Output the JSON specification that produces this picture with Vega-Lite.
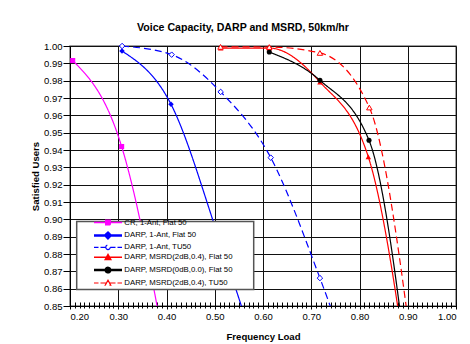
{
  "$schema": "https://vega.github.io/schema/vega-lite/v6.json",
  "width": 386,
  "height": 260,
  "autosize": "none",
  "padding": {"left": 70, "top": 46, "right": 14, "bottom": 38},
  "background": "white",
  "title": {
    "text": "Voice Capacity, DARP and MSRD, 50km/hr",
    "font": "Liberation Sans",
    "fontSize": 10.6,
    "fontWeight": "bold",
    "color": "black",
    "anchor": "middle",
    "dx": -20,
    "offset": 7
  },
  "data": {
    "values": [
      {"series": "CR, 1-Ant, Flat 50", "x": 0.2056, "y": 0.9916},
      {"series": "CR, 1-Ant, Flat 50", "x": 0.307, "y": 0.942},
      {"series": "CR, 1-Ant, Flat 50", "x": 0.41, "y": 0.805},
      {"series": "DARP, 1-Ant, Flat 50", "x": 0.3078, "y": 0.9971},
      {"series": "DARP, 1-Ant, Flat 50", "x": 0.4093, "y": 0.9664},
      {"series": "DARP, 1-Ant, Flat 50", "x": 0.511, "y": 0.887},
      {"series": "DARP, 1-Ant, Flat 50", "x": 0.613, "y": 0.8},
      {"series": "DARP, 1-Ant, TU50", "x": 0.308, "y": 1.0},
      {"series": "DARP, 1-Ant, TU50", "x": 0.4107, "y": 0.995},
      {"series": "DARP, 1-Ant, TU50", "x": 0.5123, "y": 0.9735},
      {"series": "DARP, 1-Ant, TU50", "x": 0.616, "y": 0.9356},
      {"series": "DARP, 1-Ant, TU50", "x": 0.718, "y": 0.8661},
      {"series": "DARP, 1-Ant, TU50", "x": 0.82, "y": 0.785},
      {"series": "DARP, MSRD(2dB,0.4), Flat 50", "x": 0.5123, "y": 0.9988},
      {"series": "DARP, MSRD(2dB,0.4), Flat 50", "x": 0.613, "y": 0.9988},
      {"series": "DARP, MSRD(2dB,0.4), Flat 50", "x": 0.7181, "y": 0.9792},
      {"series": "DARP, MSRD(2dB,0.4), Flat 50", "x": 0.8183, "y": 0.936},
      {"series": "DARP, MSRD(2dB,0.4), Flat 50", "x": 0.92, "y": 0.77},
      {"series": "DARP, MSRD(0dB,0.0), Flat 50", "x": 0.613, "y": 0.9965},
      {"series": "DARP, MSRD(0dB,0.0), Flat 50", "x": 0.718, "y": 0.9802},
      {"series": "DARP, MSRD(0dB,0.0), Flat 50", "x": 0.8197, "y": 0.9456},
      {"series": "DARP, MSRD(0dB,0.0), Flat 50", "x": 0.92, "y": 0.765},
      {"series": "DARP, MSRD(2dB,0.4), TU50", "x": 0.512, "y": 0.9995},
      {"series": "DARP, MSRD(2dB,0.4), TU50", "x": 0.613, "y": 0.9994},
      {"series": "DARP, MSRD(2dB,0.4), TU50", "x": 0.718, "y": 0.996},
      {"series": "DARP, MSRD(2dB,0.4), TU50", "x": 0.8204, "y": 0.9645},
      {"series": "DARP, MSRD(2dB,0.4), TU50", "x": 0.92, "y": 0.8}
    ]
  },
  "encoding": {
    "y": {
      "field": "y", "type": "quantitative",
      "scale": {"domain": [0.85, 1.0], "nice": false, "zero": false},
      "axis": {
        "values": [0.85, 0.86, 0.87, 0.88, 0.89, 0.9, 0.91, 0.92, 0.93, 0.94, 0.95, 0.96, 0.97, 0.98, 0.99, 1.0],
        "tickCount": 200,
        "labelOverlap": false,
        "format": ".2f",
        "grid": true, "gridColor": "#111", "gridOpacity": 1, "gridWidth": 1,
        "domainColor": "black", "domainWidth": 1,
        "tickColor": "black", "tickSize": 7,
        "labelFont": "Liberation Sans", "labelFontSize": 9.5, "labelColor": "black",
        "labelPadding": 1,
        "title": "Satisfied Users",
        "titleFont": "Liberation Sans", "titleFontSize": 9.6, "titleFontWeight": "bold", "titleColor": "black",
        "titlePadding": 3
      }
    }
  },
  "layer": [
    {
      "mark": {"type": "line", "clip": true, "interpolate": "monotone", "strokeWidth": 1.2},
      "encoding": {
        "x": {
          "field": "x", "type": "quantitative",
          "scale": {"domain": [0.2, 1.0], "nice": false, "zero": false},
          "axis": {
            "orient": "bottom",
            "values": [0.2, 0.3, 0.4, 0.5, 0.6, 0.7, 0.8, 0.9, 1.0],
            "tickCount": 200,
            "labelOverlap": false,
            "format": ".2f",
            "grid": true, "gridColor": "#111", "gridOpacity": 1, "gridWidth": 1,
            "domainColor": "black", "domainWidth": 1,
            "tickColor": "black", "tickSize": 3,
            "labelFont": "Liberation Sans", "labelFontSize": 9.5, "labelColor": "black",
            "labelPadding": 2,
            "title": "Frequency Load",
            "titleFont": "Liberation Sans", "titleFontSize": 9.6, "titleFontWeight": "bold", "titleColor": "black",
            "titlePadding": 11
          }
        },
        "color": {
          "field": "series", "type": "nominal",
          "scale": {
            "domain": ["CR, 1-Ant, Flat 50", "DARP, 1-Ant, Flat 50", "DARP, 1-Ant, TU50", "DARP, MSRD(2dB,0.4), Flat 50", "DARP, MSRD(0dB,0.0), Flat 50", "DARP, MSRD(2dB,0.4), TU50"],
            "range": ["#FF00FF", "#0000FF", "#0000FF", "#FF0000", "#000000", "#FF0000"]
          },
          "legend": {
            "title": null,
            "orient": "none",
            "legendX": 6.7,
            "legendY": 175.5,
            "fillColor": "white",
            "strokeColor": "#555555",
            "padding": 1,
            "rowPadding": -1.1,
            "symbolSize": 64,
            "labelFont": "Liberation Sans",
            "labelFontSize": 7.8,
            "labelColor": "black",
            "encode": {
              "legend": {
                "update": {
                  "strokeWidth": {"value": 1.5}
                }
              },
              "symbols": {
                "update": {
                  "x": {"value": 30.3},
                  "y": {"value": 0},
                  "shape": {"signal": "['M-2.8,0H2.8M-0.45,-0.45H0.45V0.45H-0.45ZM27.8,0','M-2.8,0H2.8M0,-0.55L0.55,0L0,0.55L-0.55,0ZM27.8,0','M-2.8,0H-1.9M-1.5,0H-0.45M0.45,0H1.5M1.9,0H2.8M-0.45,0A0.45,0.45,0,1,0,0.45,0A0.45,0.45,0,1,0,-0.45,0ZM27.8,0','M-2.8,0H2.8M0,-0.55L0.55,0.45L-0.55,0.45ZM27.8,0','M-2.8,0H2.8M-0.45,0A0.45,0.45,0,1,0,0.45,0A0.45,0.45,0,1,0,-0.45,0ZM27.8,0','M-2.8,0H-1.9M-1.5,0H-0.3M0.3,0H1.5M1.9,0H2.8M0,-0.55L0.55,0.45L-0.55,0.45ZM27.8,0'][datum.index]"},
                  "size": {"value": 100},
                  "stroke": {"signal": "['#FF00FF','#0000FF','#0000FF','#FF0000','#000000','#FF0000'][datum.index]"},
                  "fill": {"signal": "['#FF00FF','#0000FF','white','#FF0000','#000000','white'][datum.index]"},
                  "strokeWidth": {"signal": "[1.5,2.5,1.2,1.5,2.5,1.2][datum.index]"},
                  "strokeDash": {"value": []},
                  "opacity": {"value": 1}
                }
              },
              "labels": {
                "update": {
                  "x": {"value": 46.6},
                  "y": {"value": 0},
                  "baseline": {"value": "middle"}
                }
              }
            }
          }
        },
        "strokeDash": {
          "field": "series", "type": "nominal",
          "scale": {
            "domain": ["CR, 1-Ant, Flat 50", "DARP, 1-Ant, Flat 50", "DARP, 1-Ant, TU50", "DARP, MSRD(2dB,0.4), Flat 50", "DARP, MSRD(0dB,0.0), Flat 50", "DARP, MSRD(2dB,0.4), TU50"],
            "range": [[1, 0], [1, 0], [7, 4], [1, 0], [1, 0], [7, 4]]
          },
          "legend": null
        }
      }
    },
    {
      "transform": [{"filter": "datum.series === 'CR, 1-Ant, Flat 50' && datum.y >= 0.85"}],
      "mark": {"type": "point", "shape": "square", "size": 26, "filled": true, "color": "#FF00FF", "opacity": 1},
      "encoding": {
        "x": {
          "field": "x", "type": "quantitative",
          "scale": {"domain": [0.2, 1.0], "nice": false, "zero": false},
          "axis": {
            "orient": "bottom",
            "values": [0.2,0.21,0.22,0.23,0.24,0.25,0.26,0.27,0.28,0.29,0.3,0.31,0.32,0.33,0.34,0.35,0.36,0.37,0.38,0.39,0.4,0.41,0.42,0.43,0.44,0.45,0.46,0.47,0.48,0.49,0.5,0.51,0.52,0.53,0.54,0.55,0.56,0.57,0.58,0.59,0.6,0.61,0.62,0.63,0.64,0.65,0.66,0.67,0.68,0.69,0.7,0.71,0.72,0.73,0.74,0.75,0.76,0.77,0.78,0.79,0.8,0.81,0.82,0.83,0.84,0.85,0.86,0.87,0.88,0.89,0.9,0.91,0.92,0.93,0.94,0.95,0.96,0.97,0.98,0.99,1.0],
            "tickCount": 200,
            "labels": false, "domain": false, "grid": false,
            "tickColor": "black", "tickSize": 6, "offset": -4,
            "title": null
          }
        }
      }
    },
    {
      "transform": [{"filter": "datum.series === 'DARP, 1-Ant, Flat 50' && datum.y >= 0.85"}],
      "mark": {"type": "point", "shape": "diamond", "size": 30, "filled": true, "color": "#0000FF", "opacity": 1},
      "encoding": {"x": {"field": "x", "type": "quantitative", "scale": {"domain": [0.2, 1.0], "nice": false, "zero": false}, "axis": null}}
    },
    {
      "transform": [{"filter": "datum.series === 'DARP, 1-Ant, TU50' && datum.y >= 0.85"}],
      "mark": {"type": "point", "shape": "diamond", "size": 30, "filled": true, "fill": "white", "stroke": "#0000FF", "strokeWidth": 1, "opacity": 1},
      "encoding": {"x": {"field": "x", "type": "quantitative", "scale": {"domain": [0.2, 1.0], "nice": false, "zero": false}, "axis": null}}
    },
    {
      "transform": [{"filter": "datum.series === 'DARP, MSRD(2dB,0.4), Flat 50' && datum.y >= 0.85"}],
      "mark": {"type": "point", "shape": "triangle-up", "size": 30, "filled": true, "color": "#FF0000", "opacity": 1},
      "encoding": {"x": {"field": "x", "type": "quantitative", "scale": {"domain": [0.2, 1.0], "nice": false, "zero": false}, "axis": null}}
    },
    {
      "transform": [{"filter": "datum.series === 'DARP, MSRD(0dB,0.0), Flat 50' && datum.y >= 0.85"}],
      "mark": {"type": "point", "shape": "circle", "size": 26, "filled": true, "color": "#000000", "opacity": 1},
      "encoding": {"x": {"field": "x", "type": "quantitative", "scale": {"domain": [0.2, 1.0], "nice": false, "zero": false}, "axis": null}}
    },
    {
      "transform": [{"filter": "datum.series === 'DARP, MSRD(2dB,0.4), TU50' && datum.y >= 0.85"}],
      "mark": {"type": "point", "shape": "triangle-up", "size": 30, "filled": true, "fill": "white", "stroke": "#FF0000", "strokeWidth": 1, "opacity": 1},
      "encoding": {"x": {"field": "x", "type": "quantitative", "scale": {"domain": [0.2, 1.0], "nice": false, "zero": false}, "axis": null}}
    }
  ],
  "resolve": {"axis": {"x": "independent"}},
  "config": {
    "view": {"stroke": "#808080", "strokeWidth": 1.5},
    "font": "Liberation Sans"
  }
}
